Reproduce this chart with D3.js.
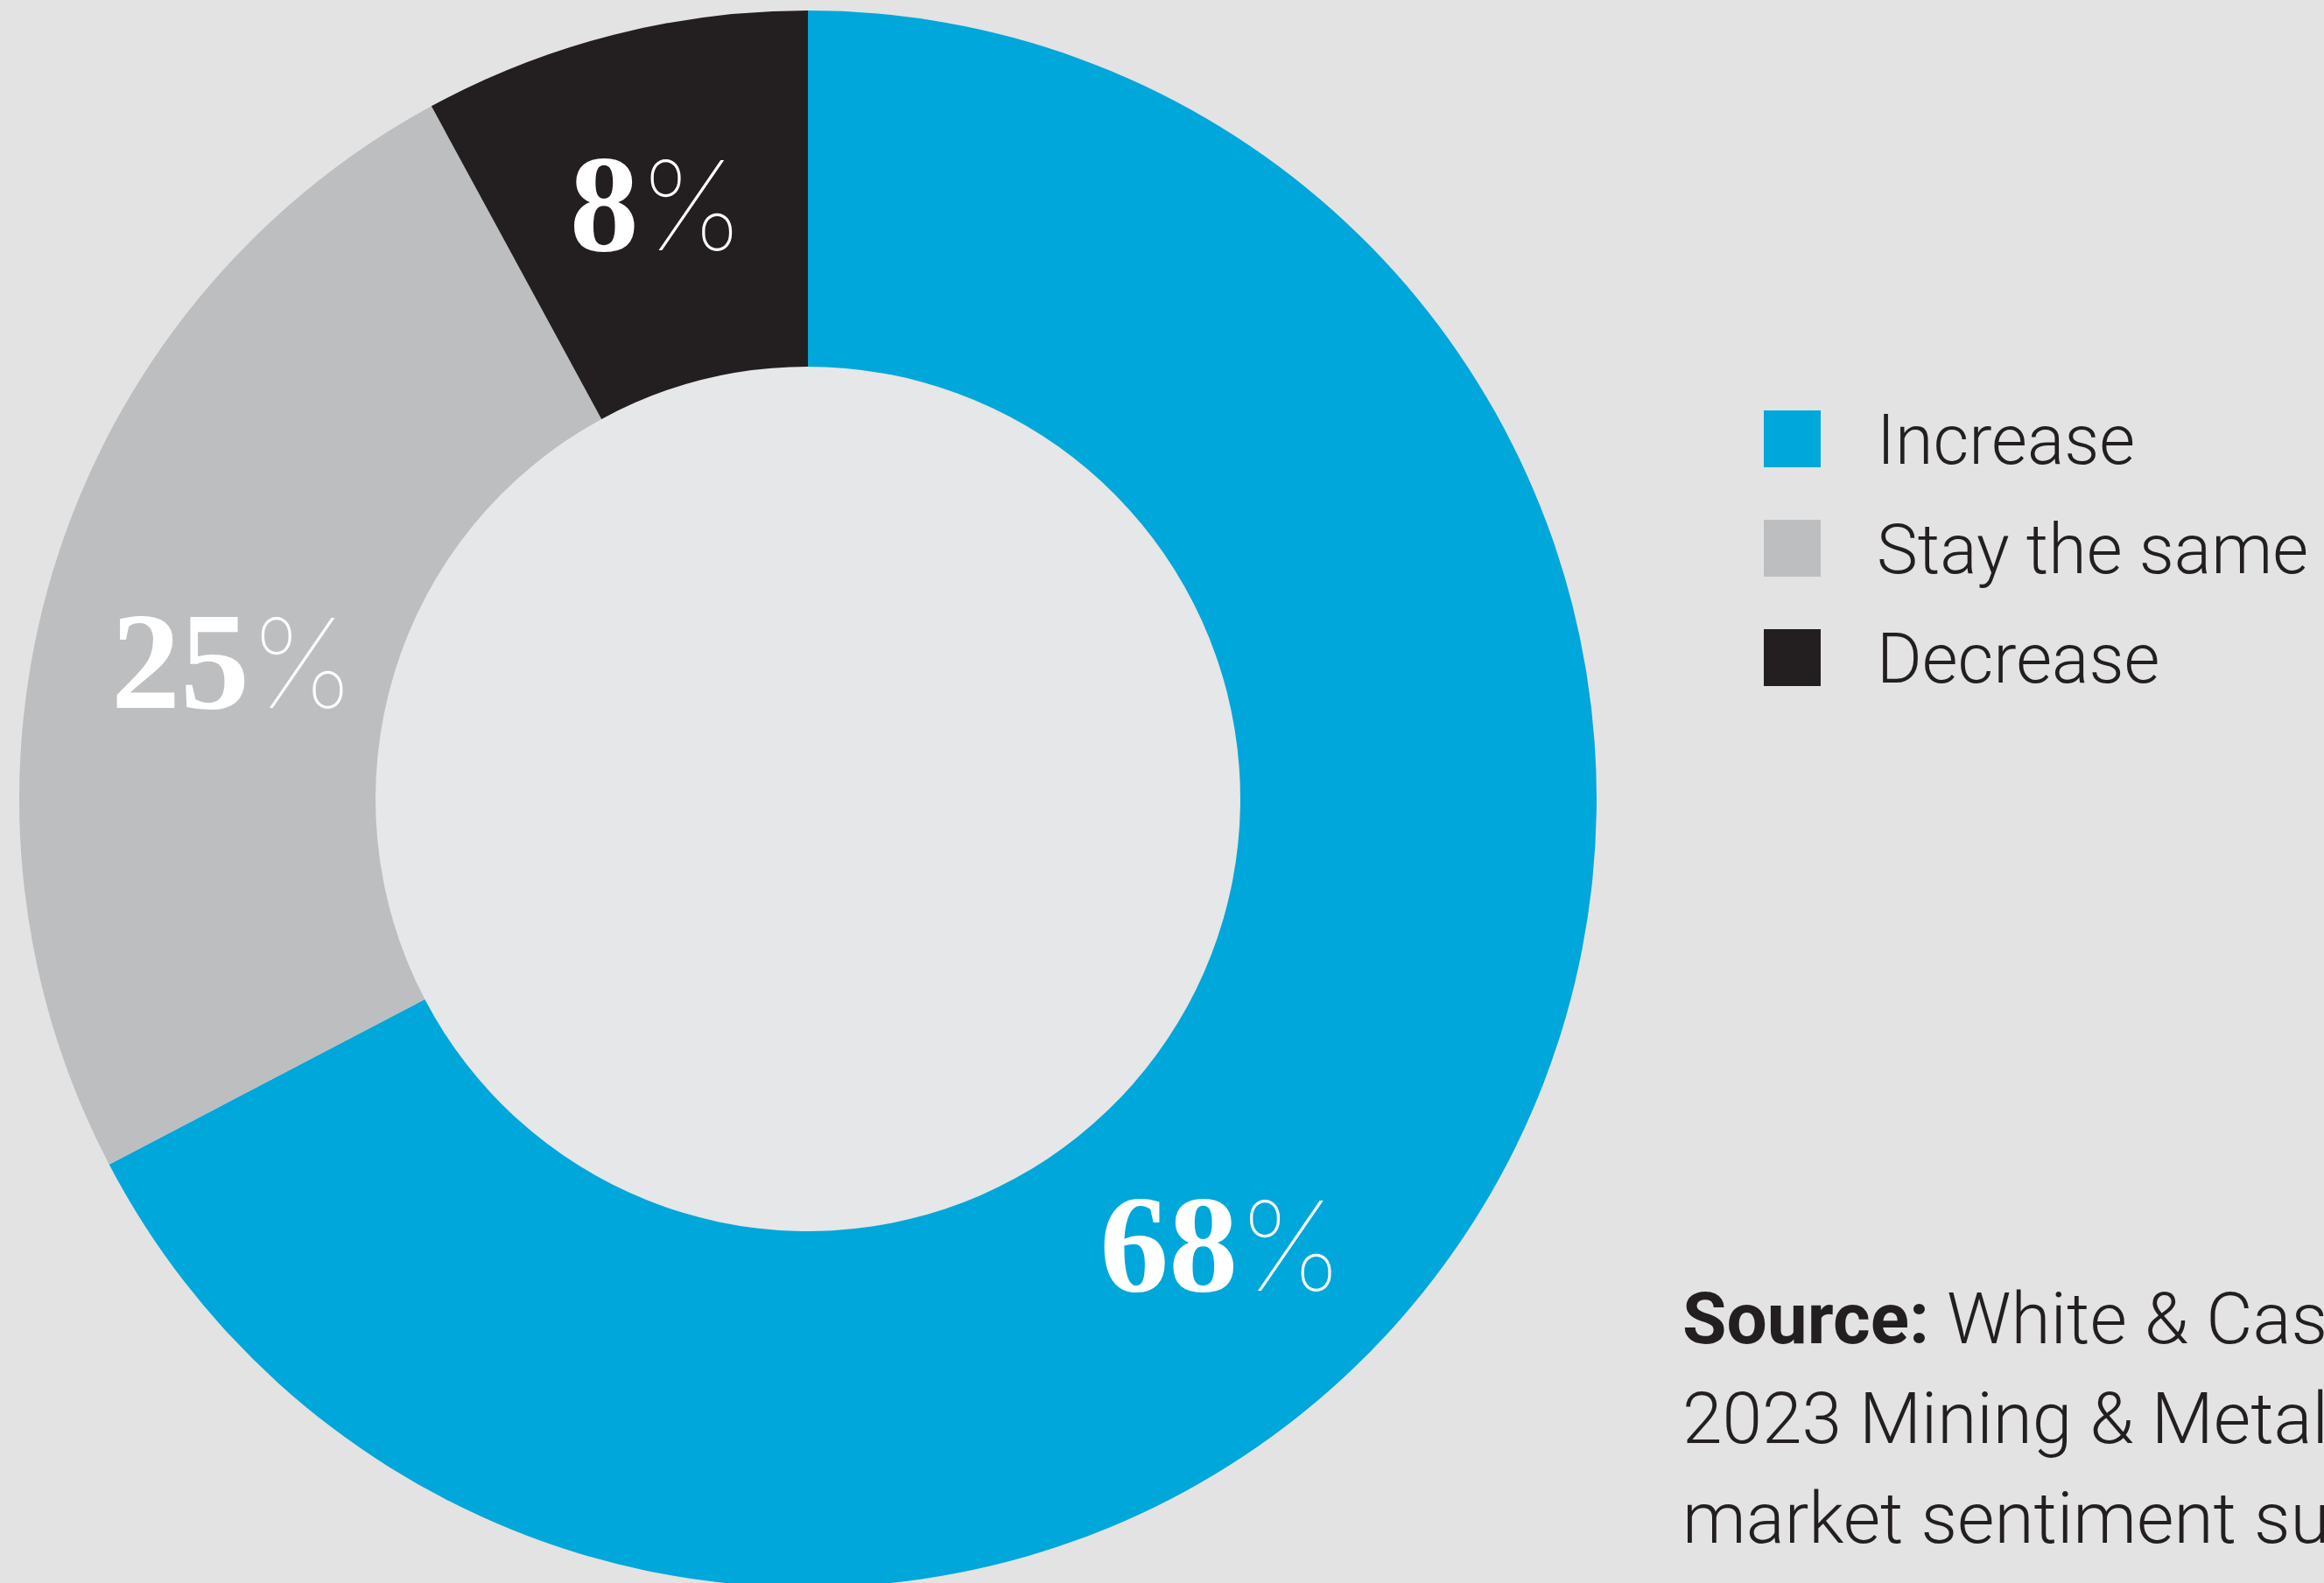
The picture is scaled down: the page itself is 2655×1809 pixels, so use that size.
<!DOCTYPE html>
<html>
<head>
<meta charset="utf-8">
<script src="https://cdn.jsdelivr.net/npm/d3@7"></script>
<style>
  html, body { margin: 0; padding: 0; background: #e3e3e3; }
  svg { display: block; }
</style>
</head>
<body>
<svg id="donut-chart" width="2655" height="1809"></svg>
<script>
const categories = ["Increase", "Stay the same", "Decrease"];
const values = [68, 25, 8];
const valueLabels = ["68", "25", "8"];

const colors = ["#00a7da", "#bdbec0", "#231f20"];
// nudge labels off the slice centroid, like the original layout
const labelShift = [16, -3.6, 0];
const labelRadius = [695, 675, 701];

const svg = d3.select("#donut-chart"),
  width = +svg.attr("width"),
  height = +svg.attr("height");

svg.append("rect")
  .attr("width", width)
  .attr("height", height)
  .attr("fill", "#e3e3e3");

const cx = 923, cy = 913;
const outer = 901, inner = 494;

const g = svg.append("g").attr("transform", "translate(" + cx + "," + cy + ")");

const color = d3.scaleOrdinal().domain(categories).range(colors);

const pie = d3.pie().sort(null);

const arc = d3.arc()
  .innerRadius(inner)
  .outerRadius(outer);

g.append("circle")
  .attr("r", inner)
  .attr("fill", "#e6e7e8");

const arcs = g.selectAll(".arc")
  .data(pie(values))
  .enter()
  .append("g")
  .attr("class", "arc");

arcs.append("path")
  .attr("fill", function(d, i) { return color(categories[i]); })
  .attr("d", arc);

const labels = arcs.append("text")
  .attr("transform", function(d, i) {
    const a = (d.startAngle + d.endAngle) / 2 + labelShift[i] * Math.PI / 180;
    const r = labelRadius[i];
    return "translate(" + (r * Math.sin(a)) + "," + (-r * Math.cos(a) + 52) + ")";
  })
  .attr("text-anchor", "middle")
  .attr("fill", "#ffffff");

labels.append("tspan")
  .attr("font-family", "'Liberation Serif', 'DejaVu Serif', serif")
  .attr("font-weight", 700)
  .attr("font-size", 158)
  .text(function(d, i) { return valueLabels[i]; });

labels.append("tspan")
  .attr("font-family", "Inter, 'Open Sans', sans-serif")
  .attr("font-weight", 100)
  .attr("font-size", 142)
  .text("%");

// legend
const legend = svg.append("g").attr("transform", "translate(2015,469)");

const rows = legend.selectAll(".row")
  .data(categories)
  .enter()
  .append("g")
  .attr("class", "row")
  .attr("transform", function(d, i) { return "translate(0," + (i * 125) + ")"; });

rows.append("rect")
  .attr("width", 65)
  .attr("height", 65)
  .attr("fill", function(d) { return color(d); });

rows.append("text")
  .attr("x", 129)
  .attr("y", 61)
  .attr("font-family", "Roboto, sans-serif")
  .attr("font-weight", 300)
  .attr("font-size", 79)
  .attr("fill", "#231f20")
  .text(function(d) { return d; });

// source note (runs off the right edge in the original)
const source = svg.append("text")
  .attr("x", 1922)
  .attr("y", 1535)
  .attr("font-family", "Roboto, sans-serif")
  .attr("font-size", 82)
  .attr("fill", "#231f20");

source.append("tspan")
  .attr("font-weight", 700)
  .text("Source:");
source.append("tspan")
  .attr("font-weight", 300)
  .text(" White & Case");
source.append("tspan")
  .attr("x", 1922)
  .attr("dy", 114)
  .attr("font-weight", 300)
  .text("2023 Mining & Metals M&A");
source.append("tspan")
  .attr("x", 1922)
  .attr("dy", 114)
  .attr("font-weight", 300)
  .text("market sentiment survey");
</script>
</body>
</html>
